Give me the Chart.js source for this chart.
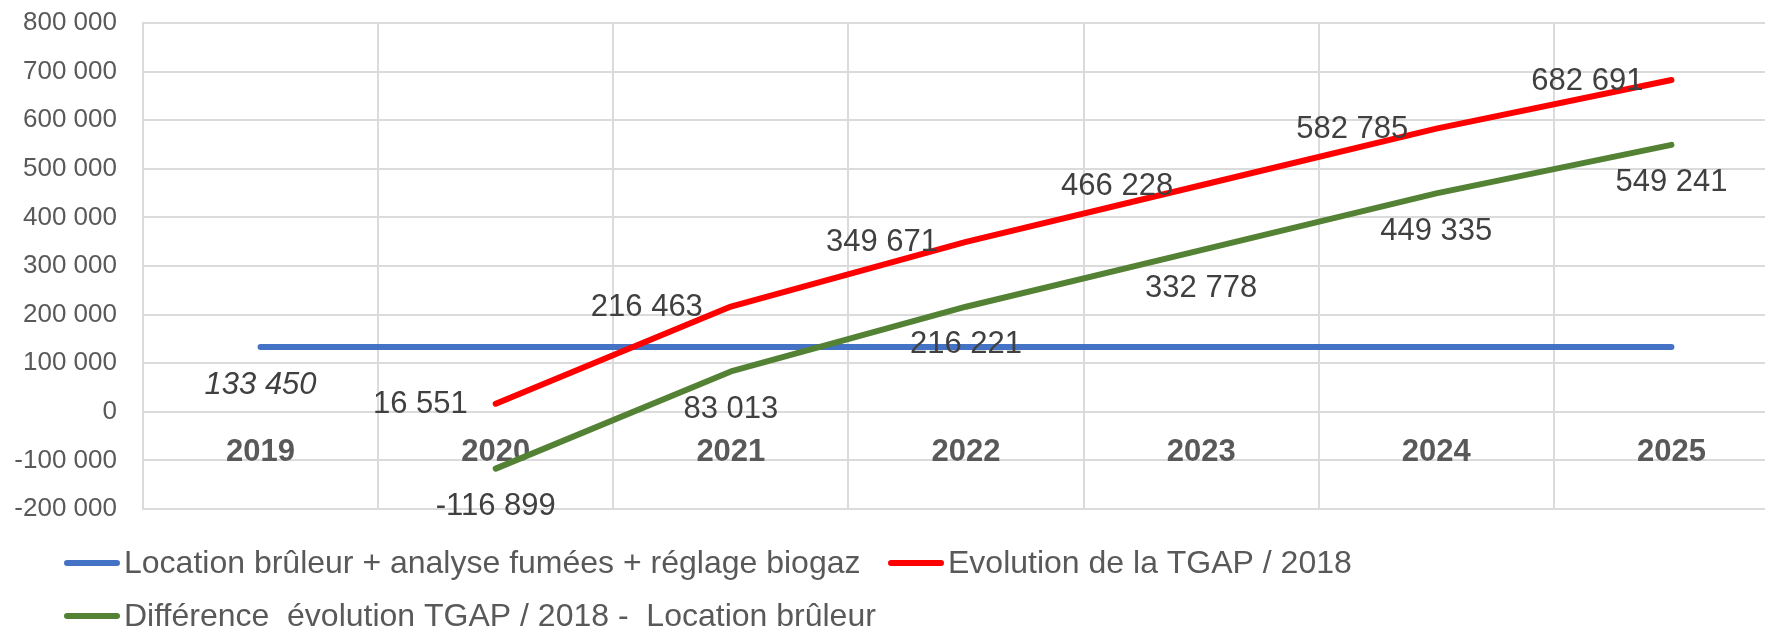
<!DOCTYPE html>
<html>
<head>
<meta charset="utf-8">
<script src="https://cdn.jsdelivr.net/npm/chart.js@4.4.1/dist/chart.umd.min.js"></script>
<style>
  html, body { margin: 0; padding: 0; overflow: hidden; background: #fff; width: 1765px; height: 628px; }
  #wrap { position: absolute; left: 0; top: 0; width: 1800px; height: 628px; }
</style>
</head>
<body>
<div id="wrap"><canvas id="c"></canvas></div>
<script>
const categories = ['2019', '2020', '2021', '2022', '2023', '2024', '2025'];
const seriesNames = [
  'Location brûleur + analyse fumées + réglage biogaz',
  'Evolution de la TGAP / 2018',
  'Différence  évolution TGAP / 2018 -  Location brûleur'
];
const burnerValues = [133450, 133450, 133450, 133450, 133450, 133450, 133450];
const tgapValues = [null, 16551, 216463, 349671, 466228, 582785, 682691];
const diffValues = [null, -116899, 83013, 216221, 332778, 449335, 549241];
const burnerLabelIndexes = [0];
const yMin = -200000, yMax = 800000, yStep = 100000;

const FONT = '"Liberation Sans", Arial, sans-serif';
const GRID = '#DBDBDB';

function fmt(v) {
  const s = String(Math.abs(Math.round(v))).replace(/\B(?=(\d{3})+(?!\d))/g, ' ');
  return (v < 0 ? '-' : '') + s;
}

const valueLabels = {
  id: 'valueLabels',
  afterDatasetsDraw(chart) {
    const ctx = chart.ctx;
    ctx.save();
    chart.data.datasets.forEach((ds, i) => {
      const meta = chart.getDatasetMeta(i);
      const cfg = ds.valueLabel;
      meta.data.forEach((pt, j) => {
        const v = ds.data[j];
        if (v == null) return;
        if (cfg.only && !cfg.only.includes(j)) return;
        ctx.font = (cfg.italic ? 'italic ' : '') + '31px ' + FONT;
        ctx.fillStyle = '#404040';
        ctx.textBaseline = 'middle';
        if (cfg.pos === 'left') {
          ctx.textAlign = 'right';
          ctx.fillText(fmt(v), pt.x - 28, pt.y + 1);
        } else {
          ctx.textAlign = 'center';
          ctx.fillText(fmt(v), pt.x, pt.y + 38);
        }
      });
    });
    ctx.restore();
  }
};

const customLegend = {
  id: 'customLegend',
  afterDraw(chart) {
    const ctx = chart.ctx;
    const ds = chart.data.datasets;
    const items = [
      { d: ds[0], x: 67, y: 563 },
      { d: ds[1], x: 891, y: 563 },
      { d: ds[2], x: 67, y: 616 }
    ];
    ctx.save();
    items.forEach(it => {
      ctx.strokeStyle = it.d.borderColor;
      ctx.lineWidth = 6;
      ctx.lineCap = 'round';
      ctx.beginPath();
      ctx.moveTo(it.x, it.y);
      ctx.lineTo(it.x + 50, it.y);
      ctx.stroke();
      ctx.font = '32px ' + FONT;
      ctx.fillStyle = '#595959';
      ctx.textAlign = 'left';
      ctx.textBaseline = 'middle';
      ctx.fillText(it.d.label, it.x + 57, it.y + 1);
    });
    ctx.restore();
  }
};

new Chart(document.getElementById('c'), {
  type: 'line',
  data: {
    labels: categories,
    datasets: [
      { label: seriesNames[0], data: burnerValues, borderColor: '#4472C4', order: 3,
        valueLabel: { pos: 'below', italic: true, only: burnerLabelIndexes } },
      { label: seriesNames[1], data: tgapValues, borderColor: '#FF0000', order: 2,
        valueLabel: { pos: 'left' } },
      { label: seriesNames[2], data: diffValues, borderColor: '#548235', order: 1,
        valueLabel: { pos: 'below' } }
    ]
  },
  options: {
    responsive: true,
    maintainAspectRatio: false,
    animation: false,
    devicePixelRatio: 1,
    layout: { padding: { left: 0, right: 11, top: 23, bottom: 119 } },
    elements: {
      line: { borderWidth: 6, tension: 0, borderCapStyle: 'round', borderJoinStyle: 'round', fill: false },
      point: { radius: 0, hoverRadius: 0 }
    },
    plugins: { legend: { display: false }, tooltip: { enabled: false } },
    scales: {
      x: {
        type: 'category',
        position: { y: 0 },
        offset: true,
        grid: { offset: true, color: GRID, lineWidth: 2, drawTicks: false },
        border: { color: GRID, width: 2 },
        ticks: {
          color: '#595959',
          font: { family: FONT, size: 31, weight: 'bold', lineHeight: 1 },
          padding: 25,
          maxRotation: 0,
          autoSkip: false
        }
      },
      y: {
        min: yMin, max: yMax,
        afterFit(scale) { scale.width = 143; scale.paddingTop = 10; scale.paddingBottom = 10; },
        grid: { color: GRID, lineWidth: 2, drawTicks: false },
        border: { color: GRID, width: 2 },
        ticks: {
          stepSize: yStep,
          color: '#595959',
          font: { family: FONT, size: 26 },
          padding: 26,
          callback: v => fmt(v)
        }
      }
    }
  },
  plugins: [valueLabels, customLegend]
});
</script>
</body>
</html>
